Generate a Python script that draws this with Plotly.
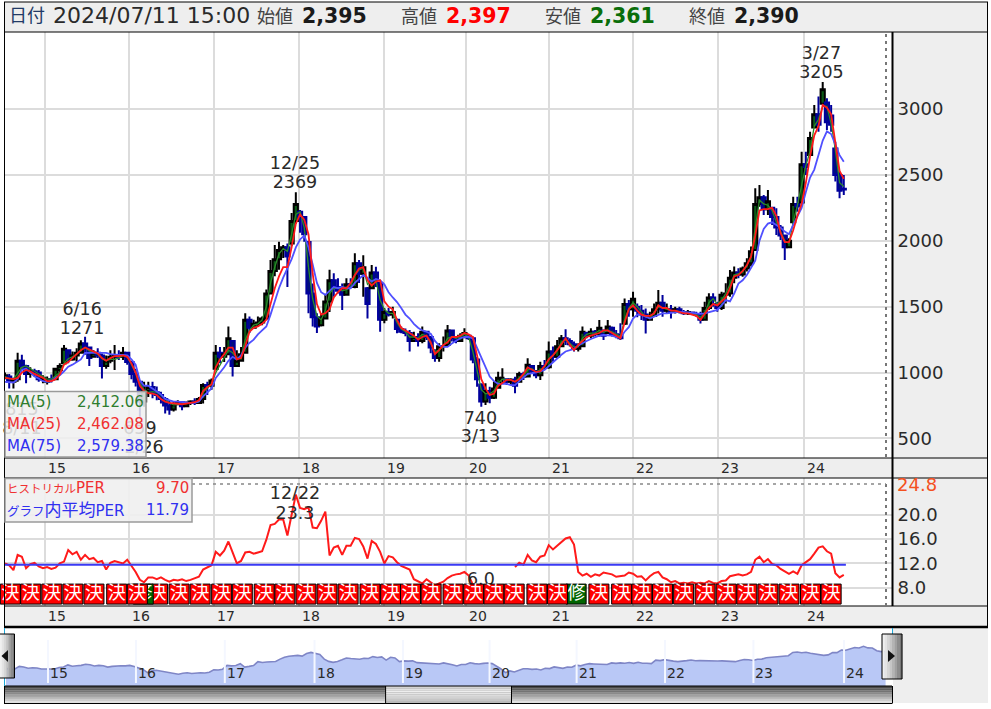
import plotly.graph_objects as go

W, H = 991, 709
FONT = "DejaVu Sans, Noto Sans CJK JP"
INK = "#2a2a2a"

year_labels = ["15", "16", "17", "18", "19", "20", "21", "22", "23", "24"]
year_ticks = [9.5, 29.4, 49.5, 69.8, 89.8, 109.4, 129.1, 149.1, 169.1, 189.6]

open_ = [960,970,930,950,1090,1050,990,1010,1000,950,
 930,950,950,1020,1070,1170,1100,1130,1150,1220,
 1190,1120,1150,1130,1050,1090,1120,1130,1120,1150,
 1080,990,930,780,860,890,850,830,800,750,
 720,760,775,745,770,780,770,800,905,900,
 1030,1150,1120,1140,1240,1050,1090,1150,1400,1340,
 1370,1380,1410,1600,1770,1860,1930,1950,1980,2150,
 2220,2180,1990,1600,1420,1360,1410,1540,1700,1650,
 1620,1590,1670,1650,1830,1750,1640,1640,1760,1680,
 1400,1460,1440,1400,1330,1310,1300,1240,1270,1240,
 1310,1270,1170,1110,1200,1210,1320,1260,1240,1280,
 1280,1260,1100,910,780,860,810,885,960,950,
 930,945,930,990,970,1050,1010,980,1050,1040,
 1160,1120,1200,1260,1240,1215,1180,1200,1300,1280,
 1310,1290,1320,1300,1340,1290,1285,1370,1520,1480,
 1500,1470,1440,1400,1430,1480,1530,1470,1480,1460,
 1480,1460,1450,1455,1445,1440,1400,1490,1570,1520,
 1490,1590,1600,1720,1760,1745,1790,1830,1930,2280,
 2330,2240,2250,2180,2100,2040,1950,2140,2280,2290,
 2580,2650,2860,2960,3040,3050,2950,2700,2500,2395]
high = [1000,990,960,1150,1135,1060,1040,1030,1020,980,
 970,985,1035,1070,1210,1170,1160,1185,1245,1271,
 1195,1170,1185,1145,1130,1170,1210,1170,1195,1150,
 1080,1030,940,930,930,930,895,855,815,790,
 780,790,780,780,790,805,815,920,930,955,
 1210,1195,1195,1350,1240,1170,1195,1450,1425,1400,
 1425,1425,1630,1854,1968,1993,1968,1980,2210,2369,
 2233,2183,2000,1675,1450,1450,1590,1780,1753,1715,
 1675,1715,1715,1905,1855,1890,1650,1816,1803,1680,
 1490,1490,1500,1410,1350,1335,1323,1310,1298,1349,
 1310,1273,1172,1222,1273,1361,1323,1273,1298,1336,
 1285,1273,1120,919,919,893,932,1007,1032,957,
 957,969,1007,1007,1108,1058,1020,1083,1096,1235,
 1197,1247,1285,1328,1260,1235,1222,1349,1310,1336,
 1323,1399,1323,1399,1349,1323,1374,1563,1551,1614,
 1525,1512,1487,1462,1525,1626,1588,1525,1512,1500,
 1500,1475,1475,1462,1462,1462,1538,1601,1601,1538,
 1614,1677,1778,1804,1791,1804,1867,1956,2398,2423,
 2348,2385,2259,2246,2120,2044,2019,2335,2335,2676,
 2676,2828,3030,3094,3205,3081,3030,2752,2524,2499]
low = [950,880,880,930,1020,920,960,970,930,920,
 910,925,950,990,1060,1070,1090,1080,1150,1135,
 1050,1120,1110,955,1030,1070,1020,1095,1095,1060,
 950,895,665,740,815,805,790,765,690,680,
 705,755,715,740,755,755,765,765,830,870,
 1020,1070,1080,1135,970,1045,1090,1150,1300,1335,
 1350,1360,1400,1600,1730,1780,1870,1650,1960,2130,
 2060,1993,1450,1350,1300,1350,1410,1460,1575,1600,
 1475,1590,1640,1640,1680,1575,1410,1640,1650,1310,
 1375,1425,1410,1298,1298,1275,1160,1235,1197,1222,
 1247,1146,1083,1083,1160,1210,1235,1222,1235,1260,
 1247,1070,893,740,755,767,800,880,919,906,
 906,843,930,944,969,995,957,944,1020,1030,
 1083,1108,1197,1210,1197,1160,1160,1195,1260,1260,
 1273,1273,1247,1298,1273,1260,1247,1361,1424,1424,
 1420,1399,1297,1399,1425,1449,1424,1449,1411,1449,
 1449,1437,1437,1437,1424,1373,1395,1474,1500,1462,
 1474,1525,1576,1677,1715,1728,1766,1804,1925,2259,
 2196,2196,2120,2044,2006,1854,1943,2130,2221,2285,
 2499,2651,2853,2828,3040,2841,2828,2449,2322,2348]
close = [980,930,950,1090,1050,990,1010,1000,950,960,
 950,945,1030,1050,1180,1100,1130,1150,1220,1190,
 1110,1150,1130,1050,1090,1120,1130,1120,1150,1080,
 990,930,780,860,890,850,830,800,750,720,
 760,775,745,770,780,770,800,905,900,940,
 1150,1120,1140,1260,1050,1090,1140,1400,1340,1370,
 1380,1410,1600,1770,1860,1930,1950,1880,2150,2280,
 2180,2050,1600,1420,1350,1410,1540,1700,1650,1620,
 1590,1670,1650,1830,1750,1800,1520,1760,1700,1400,
 1460,1440,1460,1330,1310,1300,1240,1270,1240,1310,
 1270,1190,1110,1200,1200,1320,1260,1240,1280,1300,
 1260,1100,950,780,860,810,880,960,960,930,
 945,900,990,970,1060,1010,980,1050,1040,1160,
 1120,1200,1260,1240,1215,1180,1200,1310,1280,1310,
 1290,1340,1280,1350,1290,1285,1260,1520,1480,1560,
 1470,1440,1400,1420,1480,1530,1470,1480,1460,1480,
 1460,1450,1460,1445,1440,1400,1490,1570,1550,1490,
 1590,1600,1720,1760,1745,1790,1830,1920,2280,2330,
 2240,2300,2180,2100,2040,1950,2000,2280,2260,2580,
 2560,2780,2960,2880,3150,2900,2880,2500,2380,2390]
ma5 = [970,955,950,1000,1040,1050,1030,1010,985,965,
 950,950,975,1000,1070,1105,1120,1140,1170,1190,
 1165,1150,1140,1105,1090,1100,1100,1110,1130,1120,
 1060,1000,920,870,850,855,850,830,800,770,
 755,755,760,765,770,770,780,850,880,910,
 1000,1060,1110,1170,1150,1110,1120,1250,1320,1360,
 1370,1400,1500,1680,1800,1900,1940,1920,2050,2200,
 2220,2100,1800,1560,1430,1400,1470,1600,1640,1640,
 1620,1630,1650,1740,1780,1790,1670,1700,1700,1550,
 1480,1450,1450,1380,1330,1310,1270,1270,1260,1290,
 1280,1220,1160,1170,1200,1260,1270,1260,1270,1290,
 1270,1160,1020,870,840,840,860,920,950,945,
 945,930,960,975,1020,1030,1005,1020,1040,1100,
 1130,1170,1230,1250,1225,1195,1195,1260,1290,1300,
 1300,1320,1305,1320,1310,1290,1275,1400,1490,1530,
 1500,1460,1420,1415,1450,1500,1490,1480,1470,1470,
 1465,1455,1455,1450,1440,1420,1450,1530,1560,1520,
 1550,1600,1670,1740,1750,1770,1810,1880,2100,2310,
 2280,2270,2230,2140,2070,2000,1980,2140,2270,2420,
 2570,2680,2870,2920,3020,3020,2890,2690,2440,2412]
ma25 = [960,955,950,960,1000,1020,1010,990,975,960,
 935,935,950,985,1060,1080,1110,1140,1170,1190,
 1175,1160,1145,1110,1090,1110,1125,1125,1130,1120,
 1070,1000,900,860,845,840,830,800,780,770,
 765,760,760,765,770,775,790,860,890,910,
 1040,1100,1140,1190,1190,1100,1110,1200,1310,1340,
 1350,1370,1400,1530,1640,1730,1800,1800,1950,2130,
 2200,2160,2050,1750,1520,1440,1450,1480,1570,1610,
 1640,1640,1680,1740,1790,1800,1700,1660,1690,1700,
 1540,1500,1480,1400,1340,1320,1300,1280,1250,1270,
 1280,1230,1140,1170,1210,1230,1270,1270,1280,1300,
 1290,1270,1130,950,880,830,840,900,920,945,
 945,930,950,990,1040,1020,1005,1010,1050,1100,
 1130,1170,1220,1260,1210,1170,1210,1240,1270,1280,
 1290,1300,1320,1320,1300,1280,1260,1380,1480,1510,
 1470,1440,1430,1430,1450,1510,1490,1490,1470,1470,
 1460,1450,1450,1440,1430,1400,1450,1490,1520,1510,
 1540,1570,1640,1730,1740,1770,1815,1880,2040,2230,
 2240,2240,2250,2190,2060,1990,1990,2080,2190,2280,
 2440,2640,2800,2870,3030,3010,2960,2740,2530,2470]
ma75 = [930,925,925,950,1020,1030,1000,970,955,935,
 930,935,960,980,1010,1045,1060,1080,1100,1150,
 1150,1150,1150,1150,1150,1140,1135,1135,1135,1130,
 1100,1060,940,900,900,880,860,835,800,790,
 780,780,775,775,770,770,780,820,850,880,
 960,1000,1040,1090,1120,1100,1130,1190,1225,1250,
 1290,1320,1350,1440,1550,1640,1720,1790,1860,1950,
 2010,2040,1950,1820,1680,1610,1590,1620,1650,1640,
 1650,1640,1640,1680,1710,1740,1720,1690,1710,1700,
 1670,1610,1570,1535,1490,1440,1410,1370,1340,1320,
 1310,1295,1240,1205,1195,1195,1220,1240,1260,1270,
 1270,1260,1190,1120,1050,970,935,915,915,915,
 905,905,935,960,990,995,1000,1010,1020,1050,
 1080,1105,1135,1160,1170,1180,1205,1225,1240,1255,
 1270,1280,1285,1285,1280,1270,1265,1310,1345,1410,
 1440,1440,1425,1410,1425,1440,1450,1450,1455,1460,
 1460,1460,1455,1450,1450,1445,1450,1460,1465,1475,
 1510,1550,1540,1600,1675,1700,1740,1790,1850,2000,
 2090,2130,2140,2120,2100,2070,2050,2120,2180,2250,
 2370,2480,2540,2660,2760,2830,2810,2730,2650,2600]
per = [12.0,11.7,10.9,13.4,13.1,11.2,11.9,12.1,11.5,11.2,
 11.4,11.1,11.3,12.0,12.3,14.2,13.5,13.9,12.6,13.4,
 12.7,12.9,12.2,12.4,11.0,12.1,12.4,12.2,12.0,12.6,
 11.7,10.6,9.3,8.9,9.7,9.7,9.4,9.7,9.3,9.0,
 9.3,9.2,9.4,9.1,9.3,9.5,9.8,11.0,11.3,11.7,
 13.9,13.3,14.1,15.6,13.8,12.0,12.4,13.8,13.9,13.6,
 13.8,14.0,15.9,18.3,18.5,19.2,19.2,16.6,20.0,23.3,
 21.1,20.9,21.2,17.9,17.8,19.0,20.5,13.3,14.6,14.9,
 13.4,14.9,14.9,16.2,16.0,14.8,12.8,15.7,15.2,13.9,
 12.0,13.2,13.0,12.2,11.6,11.3,11.0,9.4,9.1,8.7,
 9.4,8.9,8.4,8.7,9.0,9.6,10.0,10.2,10.3,10.6,
 10.0,8.5,6.5,6.0,6.5,7.0,7.2,7.5,7.8,8.0,
 None,11.4,12.1,11.8,13.4,12.5,12.2,13.1,13.3,15.0,
 14.3,14.9,15.5,16.1,16.3,15.1,10.6,10.0,10.3,9.8,
 10.2,10.0,10.5,10.3,10.2,9.8,9.9,10.0,10.5,10.3,
 9.8,9.9,9.2,9.9,10.4,10.6,9.7,9.4,8.9,9.1,
 8.7,8.8,8.7,8.9,8.7,8.8,8.7,9.1,8.8,8.7,
 9.1,9.2,9.9,10.0,10.2,10.0,10.2,10.6,12.6,13.1,
 12.2,12.7,11.9,11.7,11.1,10.7,10.3,10.7,10.3,11.7,
 12.2,12.7,13.6,14.6,14.8,14.0,13.6,10.4,9.7,10.1]
per_average = [11.79, 11.79]
per_average_x = [0, 199.5]

kessan_back = [1.26,6.1,11.1,16.1,21.1,26.5,36.2,41.3,46.3,51.4,56.3,61.5,66.4,71.4,76.4,81.4,
               86.6,91.5,96.2,101.1,106.3,111.2,116.0,120.8,126.2,140.9,146.3,151.1,156.0,
               161.0,166.1,171.1,176.0,181.0,186.0,191.1,196.0]
shusei = [32.8, 135.5]
kessan_front = [31.4, 131.1]

price_ticks = [500, 1000, 1500, 2000, 2500, 3000]
per_ticks = [8, 12, 16, 20]
per_tick_text = ["8.0", "12.0", "16.0", "20.0"]

for s in (open_, high, low, close, ma5, ma25, ma75, per):
    assert len(s) == 200, len(s)
bars = list(range(200))

def fx(p): return p / W
def fy(p): return 1 - p / H

shapes, annos = [], []

def rect(x0, y0, x1, y1, fill=None, line=None, lw=1, layer="below"):
    shapes.append(dict(type="rect", xref="paper", yref="paper", x0=fx(x0), x1=fx(x1), y0=fy(y0), y1=fy(y1),
                       fillcolor=fill or "rgba(0,0,0,0)", line=dict(color=line or "rgba(0,0,0,0)", width=lw if line else 0),
                       layer=layer))

def seg(x0, y0, x1, y1, color="#000", lw=1, dash=None, layer="above"):
    shapes.append(dict(type="line", xref="paper", yref="paper", x0=fx(x0), x1=fx(x1), y0=fy(y0), y1=fy(y1),
                       line=dict(color=color, width=lw, dash=dash or "solid"), layer=layer))

def text(x, y, s, size=14, color=INK, anchor="left", bold=False):
    annos.append(dict(xref="paper", yref="paper", x=fx(x), y=fy(y), text=f"<b>{s}</b>" if bold else s,
                      showarrow=False, xanchor=anchor, yanchor="middle", borderpad=0,
                      font=dict(family=FONT, size=size, color=color)))

GRAY = "#eeeeee"
rect(4, 2, 988, 32, GRAY)
rect(893, 32, 988, 458, GRAY)
rect(4, 458, 988, 478, GRAY)
rect(893, 478, 988, 606, GRAY)
rect(4, 606, 988, 626, GRAY)
rect(893, 628, 988, 703, GRAY)

seg(4, 2, 988, 2); seg(4, 32, 988, 32); seg(4.5, 2, 4.5, 627); seg(987.5, 2, 987.5, 626)
seg(892.5, 32, 892.5, 606, lw=2); seg(4, 458, 988, 458); seg(4, 478, 988, 478); seg(4, 606, 988, 606)
seg(4, 627, 988, 627, lw=2.5)
seg(886, 34, 886, 458, "#777", 2, "3px,4px"); seg(886, 484, 886, 606, "#777", 2, "3px,4px")
seg(192, 484, 886, 484, "#888", 1.5, "3px,4px")

dark_band = ["#4a4a4a", "#5e5e5e", "#747474", "#8a8a8a", "#a0a0a0", "#b6b6b6", "#cccccc", "#e0e0e0"]
light_band = ["#d4d4d4", "#e2e2e2", "#eeeeee", "#e6e6e6", "#dcdcdc", "#d2d2d2", "#c6c6c6", "#bababa"]
for k in range(8):
    y0 = 686 + k * 17 / 8
    rect(4.5, y0, 892, y0 + 17 / 8 + 0.3, dark_band[k], layer="above")
    rect(386, y0, 511.5, y0 + 17 / 8 + 0.3, light_band[k], layer="above")
seg(4, 686, 892, 686); seg(4, 703.5, 892, 703.5); seg(4.5, 686, 4.5, 703.5)
seg(892.5, 686, 892.5, 703.5); seg(385.6, 686, 385.6, 703.5); seg(511.5, 686, 511.5, 703.5)
seg(4.5, 628, 4.5, 686, "#20a8d8", 1); seg(892.5, 628, 892.5, 634, "#20a8d8", 1)

for t in year_ticks:
    shapes.append(dict(type="line", xref="x3", yref="paper", x0=t, x1=t, y0=fy(683), y1=fy(640),
                       line=dict(color="#f4f7ff", width=2), layer="above"))

btn_cols = ["#f0f0f0", "#e4e4e4", "#d6d6d6", "#c6c6c6", "#b4b4b4", "#a0a0a0", "#8c8c8c", "#787878"]
for k in range(8):
    x0 = 882 + k * 20 / 8
    rect(x0, 634, x0 + 2.8, 679, btn_cols[k], layer="above")
    x1 = 0 + k * 14.5 / 8
    rect(x1, 634, x1 + 2, 678, btn_cols[k], layer="above")
rect(882, 634, 902, 679, None, "#000", 1, layer="above")
rect(-1, 634, 14.5, 678, None, "#000", 1, layer="above")
for tri in (f"M {fx(888)} {fy(650)} L {fx(888)} {fy(662)} L {fx(895)} {fy(656)} Z",
            f"M {fx(8)} {fy(650)} L {fx(8)} {fy(662)} L {fx(1.5)} {fy(656)} Z"):
    shapes.append(dict(type="path", xref="paper", yref="paper", path=tri, fillcolor="#111",
                       line=dict(width=0), layer="above"))

rect(5, 391.5, 146, 457, "rgba(240,240,240,0.86)", "#9a9a9a", 1.5, layer="above")
rect(5, 478.5, 192, 522, "rgba(240,240,240,0.90)", "#9a9a9a", 1.5, layer="above")

H_Y = 16
text(8, H_Y, "日付", 18, "#223a66")
text(52, H_Y, "2024/07/11 15:00", 22, INK)
for lx, lab, vx, val, col in [(256, "始値", 301, "2,395", "#1a1a1a"), (400, "高値", 445, "2,397", "#ff0000"),
                              (544, "安値", 589, "2,361", "#0a6e0a"), (688, "終値", 733, "2,390", "#1a1a1a")]:
    text(lx, H_Y + 1, lab, 18, "#444")
    text(vx, H_Y, val, 20.5, col, bold=True)

for yy, lab, val, col in [(402, "MA(5)", "2,412.06", "#2e7d2e"), (424, "MA(25)", "2,462.08", "#f03030"),
                          (446, "MA(75)", "2,579.38", "#3030f0")]:
    text(5.5, yy, lab, 15, col)
    text(145, yy, val, 15, col, anchor="right")

text(5.5, 488, '<span style="font-size:11.5px">ヒストリカル</span>PER', 15, "#f03030")
text(190, 488, "9.70", 15, "#f03030", anchor="right")
text(5.5, 510, '<span style="font-size:12.5px">グラフ</span><span style="font-size:17px">内平均</span>PER', 15, "#3030f0")
text(190, 510, "11.79", 15, "#3030f0", anchor="right")

for t, lab in zip(year_ticks, year_labels):
    for yy in (468, 616):
        annos.append(dict(xref="x", yref="paper", x=t, y=fy(yy), text=lab, showarrow=False, xanchor="left",
                          xshift=2, yanchor="middle", borderpad=0, font=dict(family=FONT, size=14, color=INK)))
    annos.append(dict(xref="x3", yref="paper", x=t, y=fy(673), text=lab, showarrow=False, xanchor="left",
                      xshift=1, yanchor="middle", borderpad=0, font=dict(family=FONT, size=14, color=INK)))

annos.append(dict(xref="paper", yref="paper", x=fx(896), y=fy(484), text="24.8", showarrow=False, xanchor="left",
                  yanchor="middle", borderpad=0, font=dict(family=FONT, size=18, color="#f4511e")))

fig = go.Figure()

def txt_tr(x, y, labels, xa, ya):
    return go.Scatter(x=x, y=y, text=labels, mode="text", textposition="middle center", xaxis=xa, yaxis=ya,
                      textfont=dict(family=FONT, size=17.5, color=INK), showlegend=False, cliponaxis=False,
                      hoverinfo="skip")

fig.add_trace(go.Candlestick(x=bars, open=open_, high=high, low=low, close=close, xaxis="x", yaxis="y",
    whiskerwidth=0, showlegend=False,
    increasing=dict(line=dict(color="#000000", width=2), fillcolor="#0b5a16"),
    decreasing=dict(line=dict(color="#00009c", width=2), fillcolor="#00107a")))
fig.add_trace(go.Scatter(x=bars, y=ma5, mode="lines", line=dict(color="#2a8a2a", width=1.3), xaxis="x", yaxis="y", showlegend=False))
fig.add_trace(go.Scatter(x=bars, y=ma75, mode="lines", line=dict(color="#5050ff", width=1.8), xaxis="x", yaxis="y", showlegend=False))
fig.add_trace(go.Scatter(x=bars, y=ma25, mode="lines", line=dict(color="#ff1a1a", width=1.8), xaxis="x", yaxis="y", showlegend=False))

peak_x = [18.3, 18.3, 68.8, 68.8, 193.7, 193.7, 112.8, 112.8, 4.0, 4.0, 32.0, 33.0]
peak_y = [1471, 1327, 2575, 2431, 3415, 3271, 640, 504, 712, 568, 570, 426]
peak_t = ["6/16", "1271", "12/25", "2369", "3/27", "3205", "740", "3/13", "815", "8/11", "659", "2/26"]
fig.add_trace(txt_tr(peak_x, peak_y, peak_t, "x", "y"))

fig.add_trace(go.Scatter(x=bars, y=per, mode="lines", line=dict(color="#ff1a1a", width=2), xaxis="x2", yaxis="y2",
                         showlegend=False, connectgaps=False))
fig.add_trace(go.Scatter(x=per_average_x, y=per_average, mode="lines", line=dict(color="#3a3af5", width=2),
                         xaxis="x2", yaxis="y2", showlegend=False))
fig.add_trace(txt_tr([68.8, 68.8, 112.9], [23.25, 20.1, 9.25], ["12/22", "23.3", "6.0"], "x2", "y2"))

BOX_Y = 6.96
def marks(xs, ch, col):
    return go.Scatter(x=xs, y=[BOX_Y] * len(xs), mode="markers+text", text=[ch] * len(xs), textposition="middle center",
                      marker=dict(symbol="square", size=20, color=col, line=dict(color="#000", width=1)),
                      textfont=dict(family="Noto Sans CJK JP", size=18, color="#ffffff"),
                      xaxis="x2", yaxis="y2", showlegend=False, cliponaxis=False, hoverinfo="skip")
fig.add_trace(marks(kessan_back, "決", "#ff0000"))
fig.add_trace(marks(shusei, "修", "#006400"))
fig.add_trace(marks(kessan_front, "決", "#ff0000"))

fig.add_trace(go.Scatter(x=bars, y=close, mode="lines", fill="tozeroy", fillcolor="#b9c8f6",
                         line=dict(color="#7f86c6", width=1.6), xaxis="x3", yaxis="y3", showlegend=False))

GRID = "#dcdcdc"
xdom = [fx(5), fx(892)]
x_common = dict(domain=xdom, range=[0, 210.44], tickmode="array", tickvals=year_ticks, showticklabels=False,
                showgrid=True, gridcolor=GRID, gridwidth=2, zeroline=False, showline=False, ticks="")
y_common = dict(side="right", showgrid=True, gridcolor=GRID, gridwidth=2, zeroline=False, showline=False,
                ticks="outside", ticklen=1, tickcolor="rgba(0,0,0,0)",
                tickfont=dict(family=FONT, size=18, color=INK), tickmode="array")

fig.update_layout(
    width=W, height=H, autosize=False, margin=dict(l=0, r=0, t=0, b=0),
    paper_bgcolor="#ffffff", plot_bgcolor="#ffffff", showlegend=False, template=None,
    font=dict(family=FONT, color=INK), boxgap=0, boxgroupgap=0,
    xaxis=dict(**x_common, anchor="y", rangeslider=dict(visible=False)),
    yaxis=dict(**y_common, domain=[fy(458), fy(32)], range=[352, 3584], tickvals=price_ticks,
               ticktext=[str(v) for v in price_ticks], anchor="x"),
    xaxis2=dict(**x_common, anchor="y2"),
    yaxis2=dict(**y_common, domain=[fy(606), fy(478)], range=[5.0, 26.04], tickvals=per_ticks,
                ticktext=per_tick_text, anchor="x2"),
    xaxis3=dict(domain=xdom, range=[-0.23, 200.45], anchor="y3", showgrid=False, showticklabels=False,
                zeroline=False, showline=False, ticks=""),
    yaxis3=dict(domain=[fy(686), fy(628)], type="log", range=[2.586, 3.92], anchor="x3", showgrid=False,
                showticklabels=False, zeroline=False, showline=False, ticks=""),
    shapes=shapes, annotations=annos,
)

fig.write_html("out.html", config={"displayModeBar": False},
               post_script="document.body.style.margin='0';document.body.style.overflow='hidden';")
